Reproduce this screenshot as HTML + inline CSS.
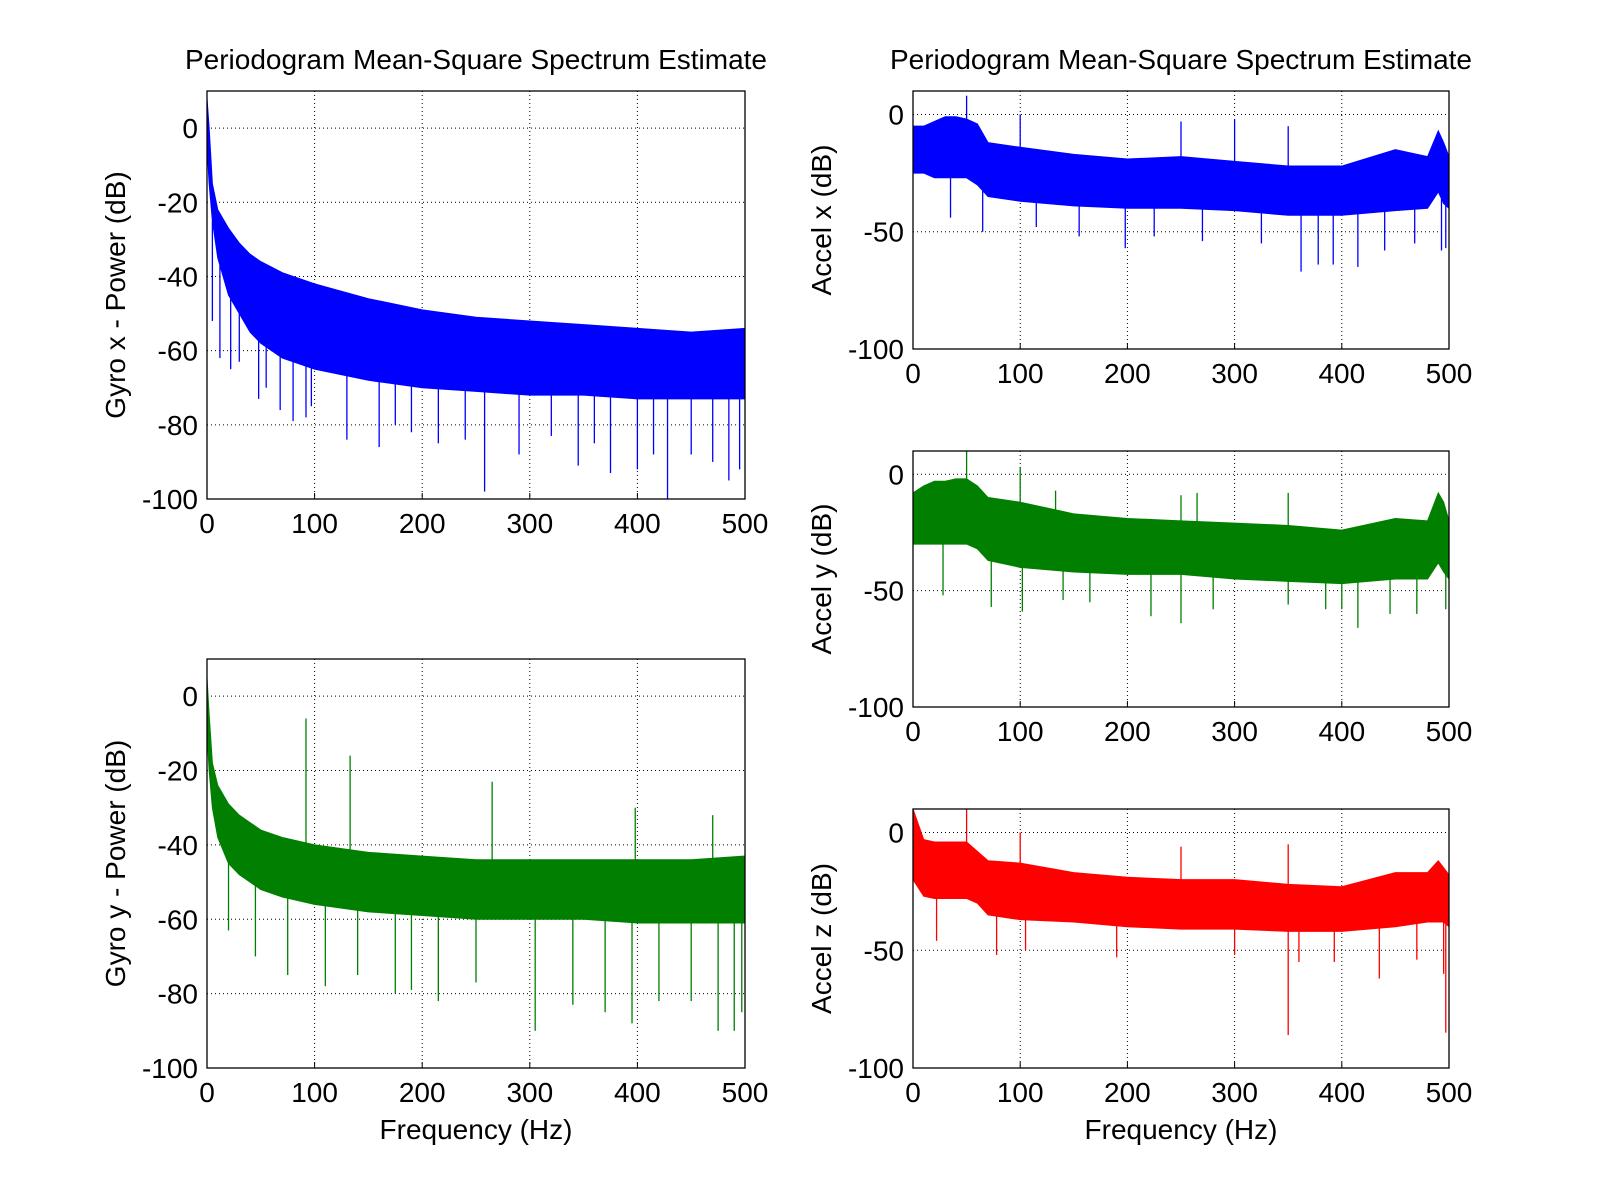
<!DOCTYPE html>
<html><head><meta charset="utf-8"><style>
html,body{margin:0;padding:0;background:#fff;}
svg{display:block;font-family:"Liberation Sans",sans-serif;}
</style></head><body>
<svg id="fig" width="1601" height="1200" viewBox="0 0 1601 1200"></svg>
<script>
// ---- data ----
const xTicks = [0,100,200,300,400,500];
const gyroYTicks = [0,-20,-40,-60,-80,-100];
const accelYTicks = [0,-50,-100];

const gxFreq  = [0,2,5,10,20,30,40,50,70,100,150,200,250,300,350,400,450,500];
const gxUpper = [8,0,-15,-22,-27,-31,-34,-36,-39,-42,-46,-49,-51,-52,-53,-54,-55,-54];
const gxLower = [-5,-15,-25,-35,-45,-50,-55,-58,-62,-65,-68,-70,-71,-72,-72,-73,-73,-73];
const gxSpikeF = [5,12,22,30,48,55,68,80,92,97,130,160,175,190,215,240,258,290,320,345,360,375,400,415,428,450,470,485,495];
const gxSpikeV = [-52,-62,-65,-63,-73,-70,-76,-79,-78,-75,-84,-86,-80,-82,-85,-84,-98,-88,-83,-91,-85,-93,-92,-88,-100,-88,-90,-95,-92];

const gyFreq  = [0,2,5,10,20,30,40,50,70,100,150,200,250,300,350,400,450,500];
const gyUpper = [5,-5,-18,-24,-29,-32,-34,-36,-38,-40,-42,-43,-44,-44,-44,-44,-44,-43];
const gyLower = [-10,-20,-30,-38,-45,-48,-50,-52,-54,-56,-58,-59,-60,-60,-60,-61,-61,-61];
const gySpikeF = [92,133,265,398,470,20,45,75,110,140,175,190,215,250,305,340,370,395,420,450,475,490,497];
const gySpikeV = [-6,-16,-23,-30,-32,-63,-70,-75,-78,-75,-80,-79,-82,-77,-90,-83,-85,-88,-82,-82,-90,-90,-85];

const axFreq  = [0,10,20,30,40,50,60,70,100,150,200,250,300,350,400,450,480,490,495,500];
const axUpper = [-5,-5,-3,-1,-1,-2,-4,-12,-14,-17,-19,-18,-20,-22,-22,-15,-18,-7,-12,-18];
const axLower = [-25,-25,-27,-27,-27,-27,-30,-35,-37,-39,-40,-40,-41,-43,-43,-41,-40,-33,-38,-40];
const axSpikeF = [50,100,250,300,350,35,65,115,155,198,225,270,325,362,378,392,415,440,468,493,497];
const axSpikeV = [8,0,-3,-2,-5,-44,-50,-48,-52,-57,-52,-54,-55,-67,-64,-64,-65,-58,-55,-58,-57];

const ayFreq  = axFreq;
const ayUpper = [-8,-5,-3,-3,-2,-2,-5,-10,-12,-17,-19,-20,-21,-22,-24,-19,-20,-8,-12,-20];
const ayLower = [-30,-30,-30,-30,-30,-30,-32,-37,-40,-42,-43,-43,-45,-46,-47,-45,-45,-38,-42,-45];
const aySpikeF = [50,100,133,250,265,350,28,73,102,140,165,222,250,280,350,385,400,415,445,470,497];
const aySpikeV = [10,3,-7,-9,-8,-8,-52,-57,-59,-54,-55,-61,-64,-58,-56,-58,-58,-66,-60,-60,-58];

const azFreq  = axFreq;
const azUpper = [10,-3,-4,-4,-4,-4,-8,-12,-13,-17,-19,-20,-20,-22,-23,-17,-17,-12,-15,-18];
const azLower = [-20,-27,-28,-28,-28,-28,-30,-35,-37,-38,-40,-41,-41,-42,-42,-40,-38,-38,-38,-40];
const azSpikeF = [50,100,250,350,350,495,497,22,78,105,190,300,360,393,435,470];
const azSpikeV = [10,0,-6,-5,-86,-60,-85,-46,-52,-50,-53,-52,-55,-55,-62,-54];

// ---- drawing ----
const NS = "http://www.w3.org/2000/svg";
const svg = document.getElementById('fig');
function mk(tag, attrs, parent){
  const e = document.createElementNS(NS, tag);
  for (const k in attrs) e.setAttribute(k, attrs[k]);
  (parent||svg).appendChild(e);
  return e;
}
function panel(cfg){
  const g = mk('g', {});
  
  
  const sx = f => cfg.x0 + (f - 0) / 500 * (cfg.x1 - cfg.x0);
  const sy = v => cfg.y1 - (v - (-100)) / 110 * (cfg.y1 - cfg.y0);
  xTicks.forEach(t => {
    if (t > 0 && t < 500) {
      const l = mk('line', {x1:sx(t), x2:sx(t), y1:cfg.y0, y2:cfg.y1, stroke:'#000', 'stroke-width':1, 'stroke-dasharray':'1,3'}, g);
      
      
    }
  });
  cfg.yTicks.forEach(t => {
    if (t > -100) {
      const l = mk('line', {x1:cfg.x0, x2:cfg.x1, y1:sy(t), y2:sy(t), stroke:'#000', 'stroke-width':1, 'stroke-dasharray':'1,3'}, g);
      
      
    }
  });
  let pts = [];
  for (let i = 0; i < cfg.f.length; i++) pts.push(sx(cfg.f[i]) + ',' + sy(cfg.up[i]));
  for (let i = cfg.f.length - 1; i >= 0; i--) pts.push(sx(cfg.f[i]) + ',' + sy(cfg.lo[i]));
  const band = mk('polygon', {points: pts.join(' '), fill: cfg.color, stroke: cfg.color, 'stroke-width':1}, g);
  
  
  const interp = (arr, f) => {
    for (let i = 0; i < cfg.f.length - 1; i++) {
      if (f >= cfg.f[i] && f <= cfg.f[i+1]) {
        const t = (f - cfg.f[i]) / (cfg.f[i+1] - cfg.f[i]);
        return arr[i] + t * (arr[i+1] - arr[i]);
      }
    }
    return arr[arr.length-1];
  };
  for (let i = 0; i < cfg.sf.length; i++) {
    const f = cfg.sf[i], v = cfg.sv[i];
    const base = v > interp(cfg.up, f) ? interp(cfg.up, f) : interp(cfg.lo, f);
    const s = mk('line', {x1:sx(f), x2:sx(f), y1:sy(base), y2:sy(v), stroke:cfg.color, 'stroke-width':1.3}, g);
    
    
  }
  const fr = mk('rect', {x:cfg.x0, y:cfg.y0, width:cfg.x1-cfg.x0, height:cfg.y1-cfg.y0, fill:'none', stroke:'#000', 'stroke-width':1.3}, g);
  
  
  xTicks.forEach(t => {
    const tx = mk('text', {x:sx(t), y:cfg.y1 + 34, 'font-size':28, 'text-anchor':'middle'}, g);
    tx.textContent = t;
    
    
    mk('line', {x1:sx(t), x2:sx(t), y1:cfg.y1, y2:cfg.y1-6, stroke:'#000'}, g);
  });
  cfg.yTicks.forEach(t => {
    const ty = mk('text', {x:cfg.x0 - 9, y:sy(t) + 10, 'font-size':28, 'text-anchor':'end'}, g);
    ty.textContent = t;
    
    
  });
  const yl = mk('text', {x:0, y:0, 'font-size':28, 'text-anchor':'middle', transform:'translate(' + cfg.ylx + ',' + ((cfg.y0+cfg.y1)/2) + ') rotate(-90)'}, g);
  yl.textContent = cfg.ylabel;
  
  
  if (cfg.title) {
    const tt = mk('text', {x:(cfg.x0+cfg.x1)/2, y:cfg.y0 - 22, 'font-size':28, 'text-anchor':'middle'}, g);
    tt.textContent = cfg.title;
    
    
  }
  if (cfg.xlabel) {
    const xl = mk('text', {x:(cfg.x0+cfg.x1)/2, y:cfg.y1 + 71, 'font-size':28, 'text-anchor':'middle'}, g);
    xl.textContent = cfg.xlabel;
    
    
  }
}
const T = 'Periodogram Mean-Square Spectrum Estimate';
panel({name:'gyro-x-panel', x0:207, x1:745, y0:91, y1:499, yTicks:gyroYTicks, color:'#0000ff', f:gxFreq, up:gxUpper, lo:gxLower, sf:gxSpikeF, sv:gxSpikeV, ylabel:'Gyro x - Power (dB)', ylx:125, title:T});
panel({name:'gyro-y-panel', x0:207, x1:745, y0:659, y1:1068, yTicks:gyroYTicks, color:'#007f00', f:gyFreq, up:gyUpper, lo:gyLower, sf:gySpikeF, sv:gySpikeV, ylabel:'Gyro y - Power (dB)', ylx:125, xlabel:'Frequency (Hz)'});
panel({name:'accel-x-panel', x0:913, x1:1449, y0:91, y1:349, yTicks:accelYTicks, color:'#0000ff', f:axFreq, up:axUpper, lo:axLower, sf:axSpikeF, sv:axSpikeV, ylabel:'Accel x (dB)', ylx:831, title:T});
panel({name:'accel-y-panel', x0:913, x1:1449, y0:451, y1:707, yTicks:accelYTicks, color:'#007f00', f:ayFreq, up:ayUpper, lo:ayLower, sf:aySpikeF, sv:aySpikeV, ylabel:'Accel y (dB)', ylx:831});
panel({name:'accel-z-panel', x0:913, x1:1449, y0:809, y1:1068, yTicks:accelYTicks, color:'#ff0000', f:azFreq, up:azUpper, lo:azLower, sf:azSpikeF, sv:azSpikeV, ylabel:'Accel z (dB)', ylx:831, xlabel:'Frequency (Hz)'});
</script>
</body></html>
